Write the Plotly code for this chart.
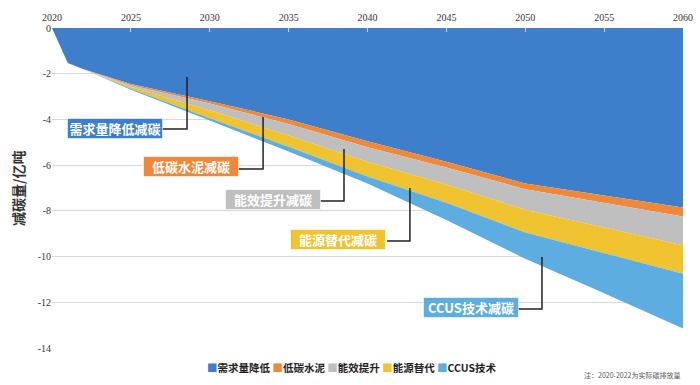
import plotly.graph_objects as go

years = [2020, 2021, 2022, 2025, 2030, 2035, 2040, 2045, 2050, 2055, 2060]
demand = [0, -1.53, -1.80, -2.45, -3.20, -4.00, -4.95, -5.85, -6.80, -7.33, -7.85]
cement = [0, 0, 0, -0.05, -0.10, -0.20, -0.27, -0.25, -0.25, -0.32, -0.40]
efficiency = [0, 0, 0, -0.08, -0.30, -0.50, -0.63, -0.75, -0.90, -1.07, -1.25]
energy = [0, 0, 0, -0.08, -0.35, -0.50, -0.65, -0.80, -1.00, -1.13, -1.25]
ccus = [0, 0, 0, -0.04, -0.10, -0.20, -0.30, -0.75, -1.15, -1.75, -2.40]

names = ["需求量降低", "低碳水泥", "能效提升", "能源替代", "CCUS技术"]
labels = ["需求量降低减碳", "低碳水泥减碳", "能效提升减碳", "能源替代减碳", "CCUS技术减碳"]
colors = ["#3D7FCA", "#F0883A", "#BFBFBF", "#F0C330", "#5DADE0"]
series = [demand, cement, efficiency, energy, ccus]

x_ticks = [2020, 2025, 2030, 2035, 2040, 2045, 2050, 2055, 2060]
y_ticks = [0, -2, -4, -6, -8, -10, -12, -14]
y_ticktext = ["0", "-2", "-4", "-6", "-8", "-10", "-12", "-14"]

fig = go.Figure()
for n, c, s in zip(names, colors, series):
    fig.add_trace(go.Scatter(
        x=years, y=s, name=n, stackgroup="one", mode="lines",
        line=dict(width=0, color=c), fillcolor=c, showlegend=False,
    ))

# callout boxes: (center x, center y, corner x, corner y, tip y)
callouts = [
    (2023.99, -4.375, 2026.21, 2028.56, -4.42, -2.14),
    (2028.78, -6.08, 2031.79, 2033.38, -6.17, -3.89),
    (2033.98, -7.50, 2036.99, 2038.51, -7.57, -5.29),
    (2038.16, -9.25, 2041.24, 2042.69, -9.32, -7.00),
    (2046.53, -12.23, 2049.54, 2051.06, -12.29, -10.02),
]
annotations = []
shapes = []
for (cx, cy, x0, x1, yl, yt), lab, col in zip(callouts, labels, colors):
    shapes.append(dict(
        type="path", xref="x", yref="y",
        path=f"M {x0},{yl} L {x1},{yl} L {x1},{yt}",
        line=dict(color="#222222", width=1.5),
    ))
    annotations.append(dict(
        x=cx, y=cy, xref="x", yref="y", text=lab, showarrow=False,
        font=dict(family="Noto Sans CJK SC", size=13, color="white", weight="bold"),
        bgcolor=col, bordercolor="rgba(255,255,255,0.6)", borderwidth=1, borderpad=1,
        width=92, height=17,
    ))

legend_text = "&nbsp;".join(
    f"<span style='color:{c}'>■</span>{n}" for n, c in zip(names, colors)
)
annotations.append(dict(
    x=0.475, y=-0.06, xref="paper", yref="paper", text=legend_text, showarrow=False,
    font=dict(family="Noto Sans CJK SC", size=10.5, color="#222222", weight="bold"),
    xanchor="center", yanchor="middle",
))
annotations.append(dict(
    x=1.0, y=-0.085, xref="paper", yref="paper", text="注：2020-2022为实际碳排放量",
    showarrow=False, font=dict(family="Noto Sans CJK SC", size=7, color="#555555"),
    xanchor="right", yanchor="middle",
))
annotations.append(dict(
    x=-0.054, y=0.5, xref="paper", yref="paper", text="减碳量/亿吨", showarrow=False,
    textangle=-90, font=dict(family="Noto Sans CJK SC", size=14, color="#333333", weight="bold"),
    xanchor="center", yanchor="middle",
))

fig.update_layout(
    width=700, height=385,
    margin=dict(l=52, r=17, t=28, b=37, autoexpand=False),
    paper_bgcolor="white", plot_bgcolor="white",
    annotations=annotations, shapes=shapes,
    xaxis=dict(
        side="top", range=[2020, 2060], tickvals=x_ticks, showgrid=False,
        zeroline=False, showline=False, ticks="inside", ticklen=4, tickcolor="#d9d9d9",
        tickfont=dict(family="Liberation Serif", size=10, color="#333333"),
        ticklabelstandoff=4, automargin=False,
    ),
    yaxis=dict(
        range=[-14, 0], tickvals=y_ticks, ticktext=y_ticktext, showgrid=True,
        gridcolor="#d9d9d9", gridwidth=1, zeroline=False, showline=False,
        tickfont=dict(family="Liberation Serif", size=10, color="#333333"),
        automargin=False,
    ),
)

fig.write_html(
    "out.html",
    config={"displayModeBar": False},
    post_script="document.body.style.margin='0';document.body.style.overflow='hidden';",
)
